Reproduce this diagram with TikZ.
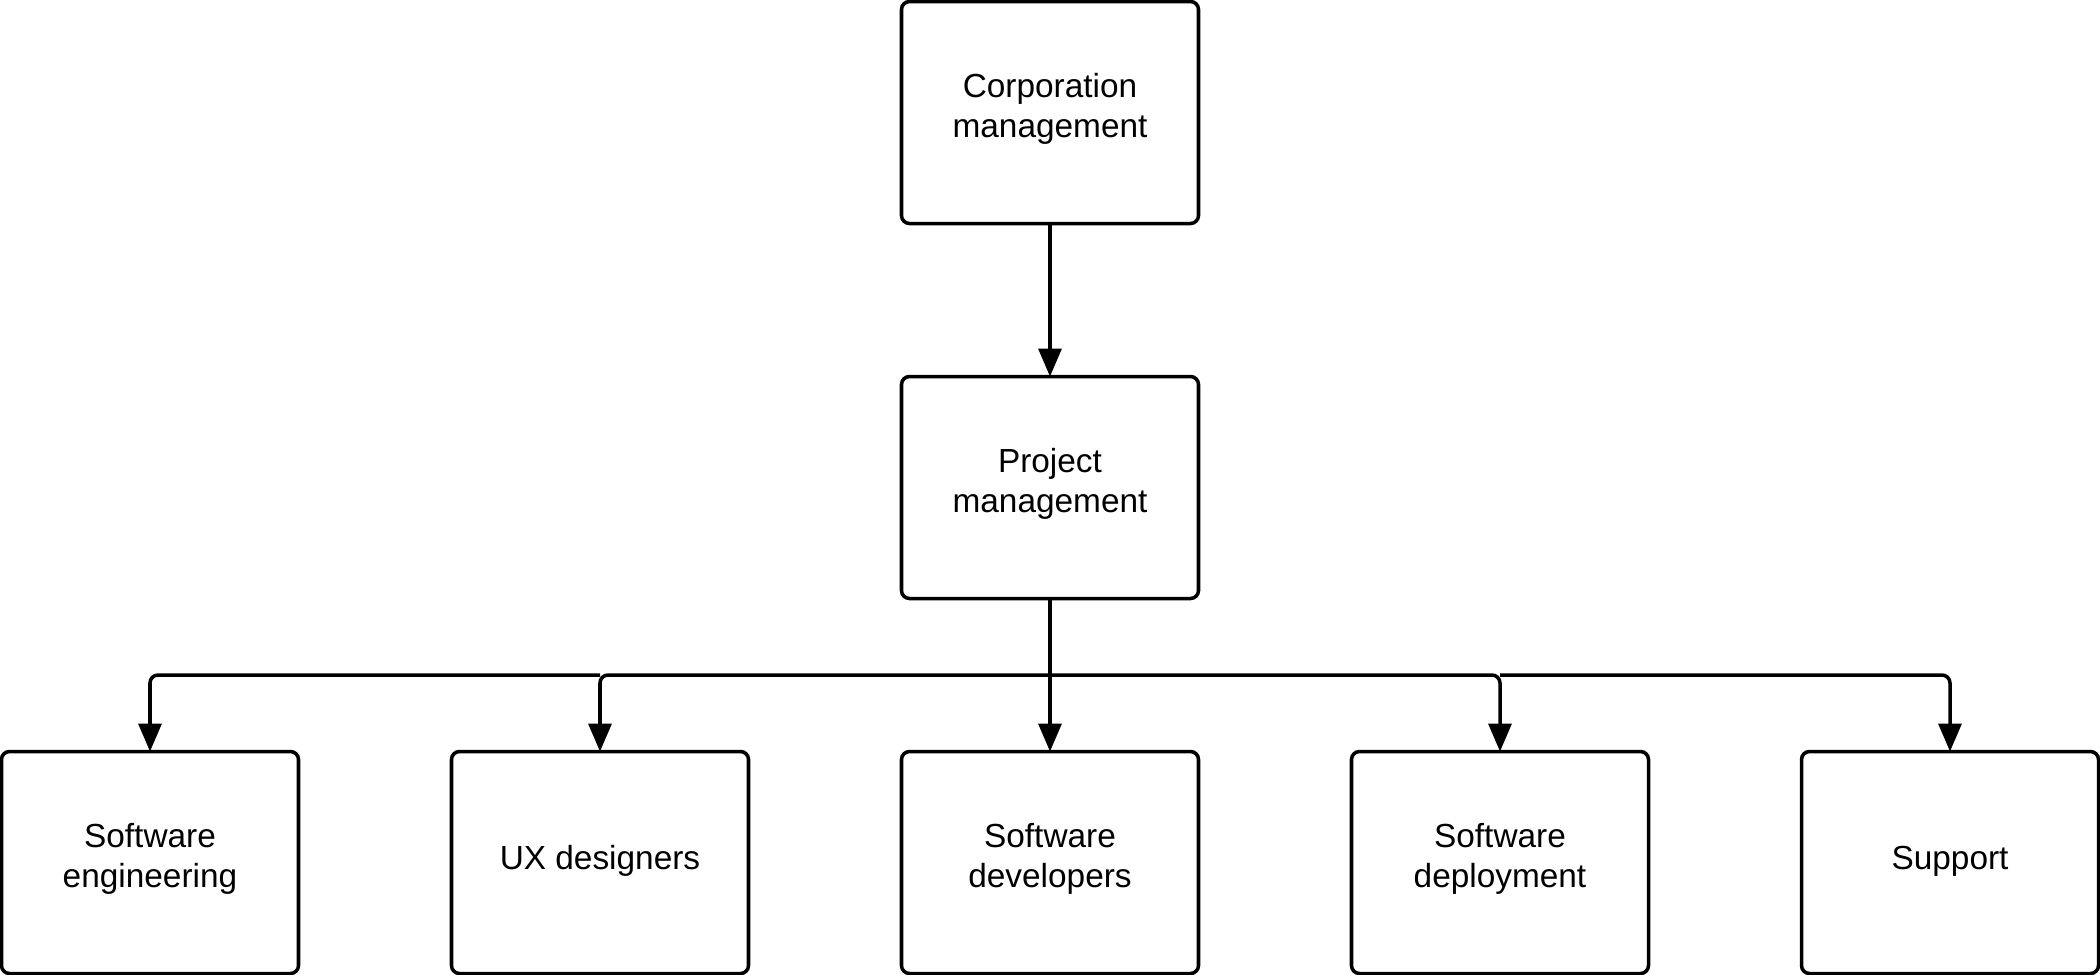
\documentclass[tikz,border=0pt]{standalone}
\usepackage{fontspec}
\setmainfont{Liberation Sans}
\usetikzlibrary{arrows.meta}
\newcommand{\boxtext}[2][0.8pt]{\raisebox{#1}[\height][\depth]{\begin{tabular}{@{}c@{}}#2\end{tabular}}}
\begin{document}
\begin{tikzpicture}[
  unit/.style={draw=black, line width=1pt, rounded corners=0.08cm,
    minimum width=2.97cm, minimum height=2.22cm, align=center,
    inner sep=0pt, outer sep=0pt,
    font=\fontsize{9.5pt}{11.4pt}\selectfont},
  link/.style={draw=black, line width=1pt},
  arrowlink/.style={link, -{Triangle[length=0.28cm, width=0.23cm]}},
  branch/.style={arrowlink, rounded corners=0.08cm}
]
\useasboundingbox (0,0) rectangle (21,-9.75);
\node[unit] (cm) at (10.5,-1.125) {\boxtext{Corporation\\management}};
\node[unit] (pm) at (10.5,-4.875) {\boxtext{Project\\management}};
\node[unit] (se)  at (1.5,-8.625)  {\boxtext{Software\\engineering}};
\node[unit] (ux)  at (6,-8.625)    {\boxtext[0.3pt]{UX designers}};
\node[unit] (dev) at (10.5,-8.625) {\boxtext{Software\\developers}};
\node[unit] (dep) at (15,-8.625)   {\boxtext{Software\\deployment}};
\node[unit] (sup) at (19.5,-8.625) {\boxtext[0.3pt]{Support}};
\coordinate (jn) at (10.5,-6.75);
\coordinate (jux) at (6,-6.75);
\coordinate (jdep) at (15,-6.75);
\draw[arrowlink] (cm.south) -- (pm.north);
\draw[arrowlink] (pm.south) -- (dev.north);
\draw[branch] (jn) -| (ux.north);
\draw[branch] (jux) -| (se.north);
\draw[branch] (jn) -| (dep.north);
\draw[branch] (jdep) -| (sup.north);
\end{tikzpicture}
\end{document}
